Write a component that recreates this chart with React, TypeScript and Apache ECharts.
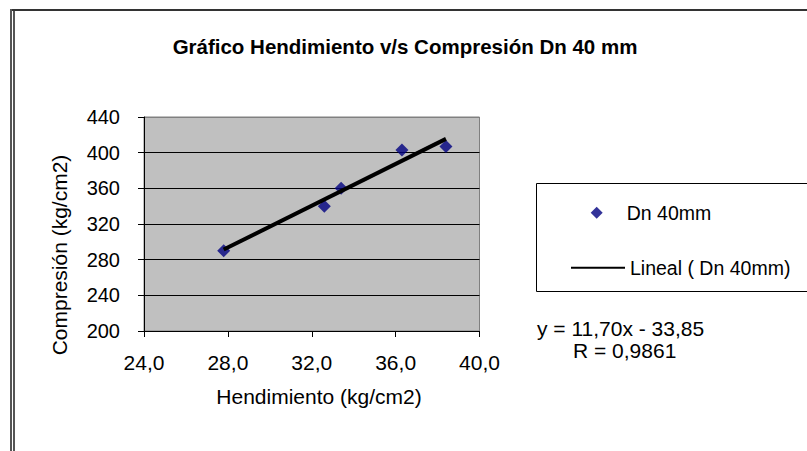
import React, { useEffect, useRef } from "react";
import * as echarts from "echarts";

const titleText = "Gráfico Hendimiento v/s Compresión Dn 40 mm";
const xAxisTitle = "Hendimiento (kg/cm2)";
const yAxisTitle = "Compresión (kg/cm2)";
const seriesName = "Dn 40mm";
const trendName = "Lineal ( Dn 40mm)";
const hendimiento = [27.8, 32.6, 33.4, 36.3, 38.4];
const compresion = [290, 340, 360, 403, 407];
const trendSlope = 11.7;
const trendIntercept = -33.85;
const equationText = "y = 11,70x - 33,85";
const rText = "R = 0,9861";
const xMin = 24, xMax = 40, xStep = 4;
const yMin = 200, yMax = 440, yStep = 40;

const FONT = "'Liberation Sans', Arial, sans-serif";

export default function App() {
  const ref = useRef<HTMLDivElement>(null);
  useEffect(() => {
    if (!ref.current) return;
    const chart = echarts.init(ref.current, undefined, { renderer: "svg" });
    const scatterData = hendimiento.map((x, i) => [x, compresion[i]]);
    const tx0 = Math.min(...hendimiento);
    const tx1 = Math.max(...hendimiento);
    const trendData = [
      [tx0, trendSlope * tx0 + trendIntercept],
      [tx1, trendSlope * tx1 + trendIntercept],
    ];
    const nSplit = Math.round((yMax - yMin) / yStep) + 1;
    const splitColors = Array.from({ length: nSplit }, (_, i) => (i === nSplit - 1 ? "#808080" : "#000000"));
    const txt = (extra: any) => ({ fontFamily: FONT, fill: "#000", ...extra });
    chart.setOption({
      animation: false,
      backgroundColor: "#ffffff",
      textStyle: { fontFamily: FONT },
      grid: {
        left: 144,
        top: 117,
        width: 335.5,
        height: 214,
        show: true,
        backgroundColor: "#c0c0c0",
        borderColor: "#808080",
        borderWidth: 1,
        containLabel: false,
      },
      xAxis: {
        type: "value",
        min: xMin,
        max: xMax,
        interval: xStep,
        axisLine: { show: true, onZero: false, lineStyle: { color: "#000", width: 1 } },
        axisTick: { show: true, inside: false, length: 6, lineStyle: { color: "#000" } },
        axisLabel: {
          color: "#000",
          fontSize: 21,
          fontFamily: FONT,
          margin: 21,
          formatter: (v: number) => v.toFixed(1).replace(".", ","),
        },
        splitLine: { show: false },
      },
      yAxis: {
        type: "value",
        min: yMin,
        max: yMax,
        interval: yStep,
        axisLine: { show: true, onZero: false, lineStyle: { color: "#000", width: 1 } },
        axisTick: { show: true, inside: false, length: 6, lineStyle: { color: "#000" } },
        axisLabel: { color: "#000", fontSize: 20, fontFamily: FONT, margin: 24 },
        splitLine: { show: true, lineStyle: { color: splitColors, width: 1 } },
      },
      legend: [
        {
          data: [{ name: seriesName, icon: "diamond" }],
          left: 585.7,
          top: 197.7,
          itemWidth: 12,
          itemHeight: 12,
          itemStyle: { color: "#000080" },
          textStyle: { fontSize: 19.5, fontFamily: FONT, color: "#000", padding: [0, 0, 0, 19], lineHeight: 20 },
          selectedMode: false,
        },
        {
          data: [{ name: trendName, icon: "rect" }],
          left: 566,
          top: 252.7,
          itemWidth: 54,
          itemHeight: 2,
          itemGap: 0,
          itemStyle: { color: "#000" },
          textStyle: { fontSize: 19.5, fontFamily: FONT, color: "#000", lineHeight: 20 },
          selectedMode: false,
        },
      ],
      graphic: [
        { type: "rect", shape: { x: 10, y: 9, width: 797, height: 2 }, style: { fill: "#333" }, z: 10, silent: true },
        { type: "rect", shape: { x: 10, y: 9, width: 2, height: 442 }, style: { fill: "#555" }, z: 10, silent: true },
        { type: "rect", shape: { x: 13, y: 11, width: 2, height: 440 }, style: { fill: "#555" }, z: 10, silent: true },
        {
          type: "rect",
          shape: { x: 536.5, y: 183.5, width: 300, height: 108 },
          style: { fill: "#ffffff", stroke: "#000", lineWidth: 1 },
          z: 1,
          silent: true,
        },
        {
          type: "text",
          x: 405,
          y: 46,
          style: txt({ text: titleText, fontSize: 20.5, fontWeight: "bold", align: "center", verticalAlign: "middle", textAlign: "center", textVerticalAlign: "middle" }),
        },
        {
          type: "text",
          x: 319,
          y: 396,
          style: txt({ text: xAxisTitle, fontSize: 21, align: "center", verticalAlign: "middle", textAlign: "center", textVerticalAlign: "middle" }),
        },
        {
          type: "text",
          x: 59,
          y: 255,
          rotation: Math.PI / 2,
          style: txt({ text: yAxisTitle, fontSize: 21, align: "center", verticalAlign: "middle", textAlign: "center", textVerticalAlign: "middle" }),
        },
        {
          type: "text",
          x: 537,
          y: 328,
          style: txt({ text: equationText, fontSize: 21, align: "left", verticalAlign: "middle", textAlign: "left", textVerticalAlign: "middle" }),
        },
        {
          type: "text",
          x: 573,
          y: 350,
          style: txt({ text: rText, fontSize: 21, align: "left", verticalAlign: "middle", textAlign: "left", textVerticalAlign: "middle" }),
        },
      ],
      series: [
        {
          name: seriesName,
          type: "scatter",
          data: scatterData,
          symbol: "diamond",
          symbolSize: 13,
          itemStyle: { color: "#000080" },
          z: 3,
        },
        {
          name: trendName,
          type: "line",
          data: trendData,
          symbol: "none",
          showSymbol: false,
          lineStyle: { color: "#000", width: 4 },
          itemStyle: { color: "#000" },
          z: 4,
        },
      ],
    });
    return () => chart.dispose();
  }, []);
  return (
    <div
      ref={ref}
      style={{ position: "fixed", left: 0, top: 0, width: 807, height: 451, background: "#fff" }}
    />
  );
}
